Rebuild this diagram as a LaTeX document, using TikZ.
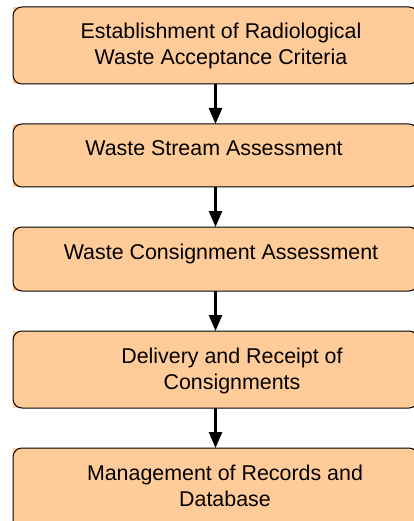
\documentclass[tikz,border=0pt]{standalone}
\usepackage{fontspec}
\setmainfont{Liberation Sans}
\usetikzlibrary{arrows.meta}
\definecolor{peach}{HTML}{FFCC99}
\begin{document}
\begin{tikzpicture}[x=1pt,y=-1pt,
  boxfill/.style={fill=peach, draw=none, inner sep=0pt, outer sep=0pt, anchor=north west, minimum width=405pt},
  boxline/.style={draw=black, line width=1pt, rounded corners=9pt},
  lbltext/.style={font=\fontsize{21.4}{25.5}\selectfont, align=center, anchor=base, inner sep=0pt},
  flow/.style={-{Triangle[length=16pt,width=13pt]}, line width=2.5pt}]
\useasboundingbox (0,0) rectangle (414,521);
\node[boxfill, minimum height=77pt] (b1) at (13,7) {};
\node[boxfill, minimum height=63pt] (b2) at (13,124) {};
\node[boxfill, minimum height=64pt] (b3) at (13,227) {};
\node[boxfill, minimum height=77pt] (b4) at (13,331) {};
\node[boxfill, minimum height=82pt] (b5) at (13,448) {};
\foreach \b in {b1,b2,b3,b4,b5}
  \draw[boxline] (\b.north west) rectangle (\b.south east);
\node[lbltext] (t1) at (221,64.5) {Establishment of Radiological\\Waste Acceptance Criteria};
\node[lbltext] (t2) at (214,156) {Waste Stream Assessment};
\node[lbltext] (t3) at (221,259.3) {Waste Consignment Assessment};
\node[lbltext] (t4) at (232,389.3) {Delivery and Receipt of\\Consignments};
\node[lbltext] (t5) at (225,506) {Management of Records and\\Database};
\draw[flow] (b1.south) -- (b2.north);
\draw[flow] (b2.south) -- (b3.north);
\draw[flow] (b3.south) -- (b4.north);
\draw[flow] (b4.south) -- (b5.north);
\end{tikzpicture}
\end{document}
